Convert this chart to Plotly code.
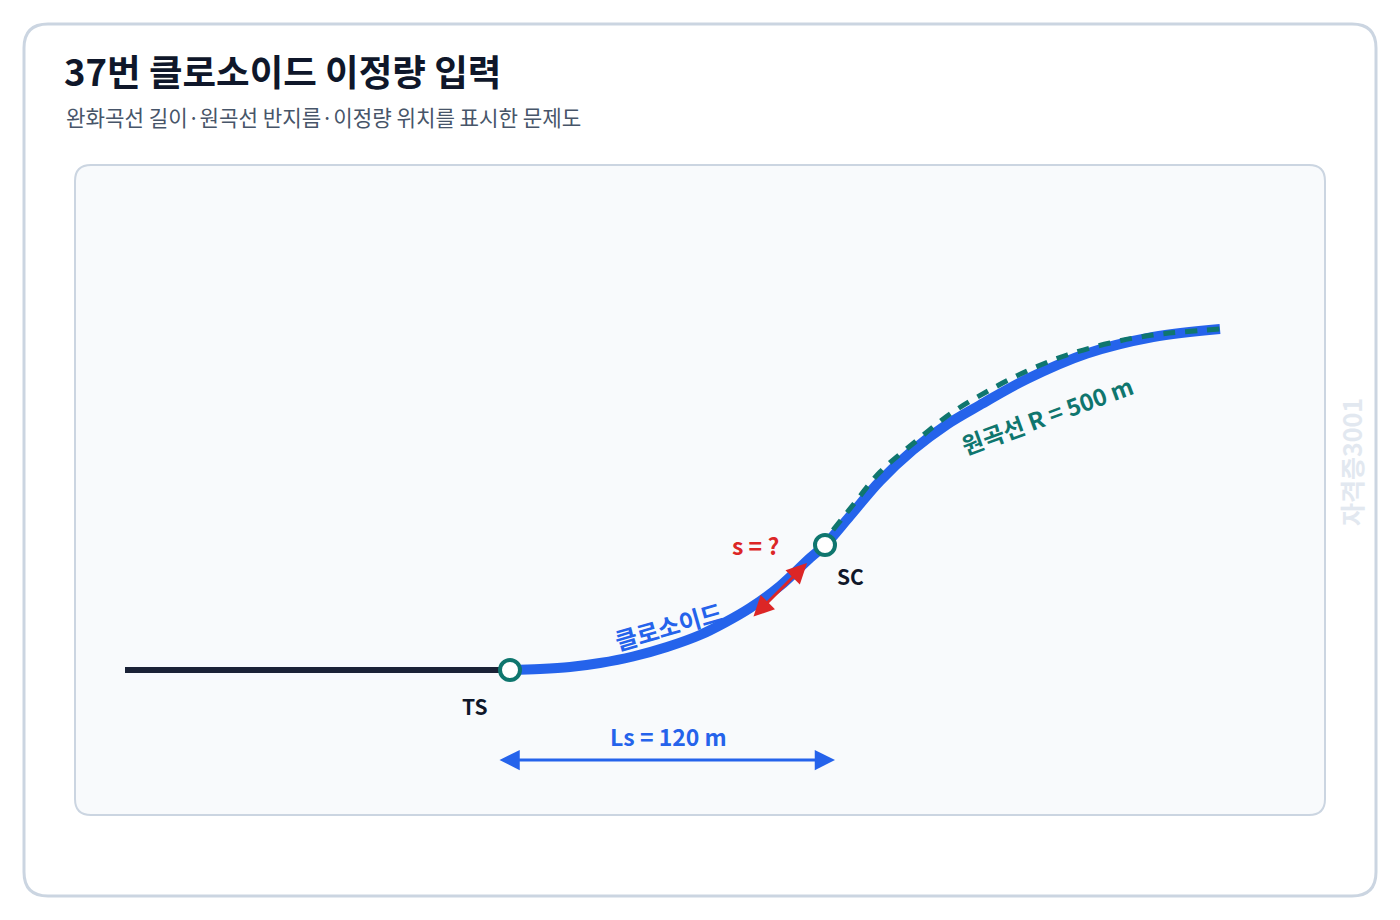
import plotly.graph_objects as go

FONT = "Noto Sans CJK KR"
TITLE = "37번 클로소이드 이정량 입력"
SUBTITLE = "완화곡선 길이·원곡선 반지름·이정량 위치를 표시한 문제도"

tangent_x = [125, 510]
tangent_y = [670, 670]
clothoid_x = [510, 540, 570, 600, 633, 667, 700, 725, 750, 780, 810, 825, 850, 880, 913, 947, 980, 1027, 1087, 1153, 1220]
clothoid_y = [670, 669, 667, 663, 656.5, 647, 635, 622.5, 608, 586, 558, 545, 516, 481, 450, 424.5, 405, 379, 353.5, 337, 329]
circle_x = [833, 853, 880, 915, 950, 988, 1027, 1067, 1110, 1153, 1220]
circle_y = [530, 505, 472, 442, 414, 391, 371, 355, 343, 335, 329]
station_x = [510, 825]
station_y = [670, 545]
ls_start = (498, 760)
ls_end = (835, 760)
s_start = (752, 618)
s_end = (807, 563)

BLUE = "#2563eb"
GREEN = "#0f766e"
RED = "#dc2626"
DARK = "#0f172a"
LINE_DARK = "#1a2236"
BORDER = "#cbd5e1"

fig = go.Figure()
fig.add_trace(go.Scatter(x=tangent_x, y=tangent_y, mode="lines", line=dict(color=LINE_DARK, width=6)))
fig.add_trace(go.Scatter(x=clothoid_x, y=clothoid_y, mode="lines",
                         line=dict(color=BLUE, width=10, shape="spline", smoothing=1)))
fig.add_trace(go.Scatter(x=circle_x, y=circle_y, mode="lines",
                         line=dict(color=GREEN, width=5, dash="12px,10px", shape="spline", smoothing=1)))
fig.add_trace(go.Scatter(x=station_x, y=station_y, mode="markers",
                         marker=dict(size=20, color="white", line=dict(color=GREEN, width=4))))


def arrow(start, end, color):
    fig.add_annotation(x=end[0], y=end[1], ax=start[0], ay=start[1], axref="x", ayref="y", xref="x", yref="y",
                       text="", showarrow=True, arrowhead=2, startarrowhead=2, arrowside="end+start",
                       arrowcolor=color, arrowwidth=3, arrowsize=1.35, startarrowsize=1.35)


arrow(ls_start, ls_end, BLUE)
arrow(s_start, s_end, RED)


def label(x, y, text, size, color, angle=0, weight=600, anchor="center"):
    fig.add_annotation(x=x, y=y, text=text, showarrow=False, textangle=angle, xanchor=anchor, yanchor="middle",
                       font=dict(family=FONT, size=size, color=color, weight=weight))


label(62, 70, TITLE, 36.5, DARK, weight=700, anchor="left")
label(64, 116, SUBTITLE, 21.2, "#475569", weight=400, anchor="left")
label(668, 625, "클로소이드", 24, BLUE, angle=-16)
label(1047, 415, "원곡선 R = 500 m", 23.5, GREEN, angle=-20)
label(755, 545, "s = ?", 23, RED)
label(475, 706, "TS", 21, DARK)
label(850, 576, "SC", 21, DARK)
label(668, 736, "Ls = 120 m", 23, BLUE)
label(1351, 462, "자격증3001", 25, "#e2e8f0", angle=-90, weight=600)


def rounded(x0, y0, x1, y1, r):
    return (f"M{x0+r},{y0} L{x1-r},{y0} Q{x1},{y0} {x1},{y0+r} L{x1},{y1-r} Q{x1},{y1} {x1-r},{y1} "
            f"L{x0+r},{y1} Q{x0},{y1} {x0},{y1-r} L{x0},{y0+r} Q{x0},{y0} {x0+r},{y0} Z")


fig.update_layout(
    width=1400, height=920, margin=dict(l=0, r=0, t=0, b=0), showlegend=False,
    paper_bgcolor="white", plot_bgcolor="white",
    xaxis=dict(range=[0, 1400], visible=False, fixedrange=True),
    yaxis=dict(range=[920, 0], visible=False, fixedrange=True),
    shapes=[
        dict(type="path", path=rounded(24, 24, 1376, 896, 24), line=dict(color=BORDER, width=3),
             fillcolor="white", layer="below"),
        dict(type="path", path=rounded(75, 165, 1325, 815, 16), line=dict(color=BORDER, width=2),
             fillcolor="#f8fafc", layer="below"),
    ],
)
fig.write_html("out.html", config=dict(displayModeBar=False),
               post_script="document.body.style.margin='0';document.body.style.overflow='hidden';")
